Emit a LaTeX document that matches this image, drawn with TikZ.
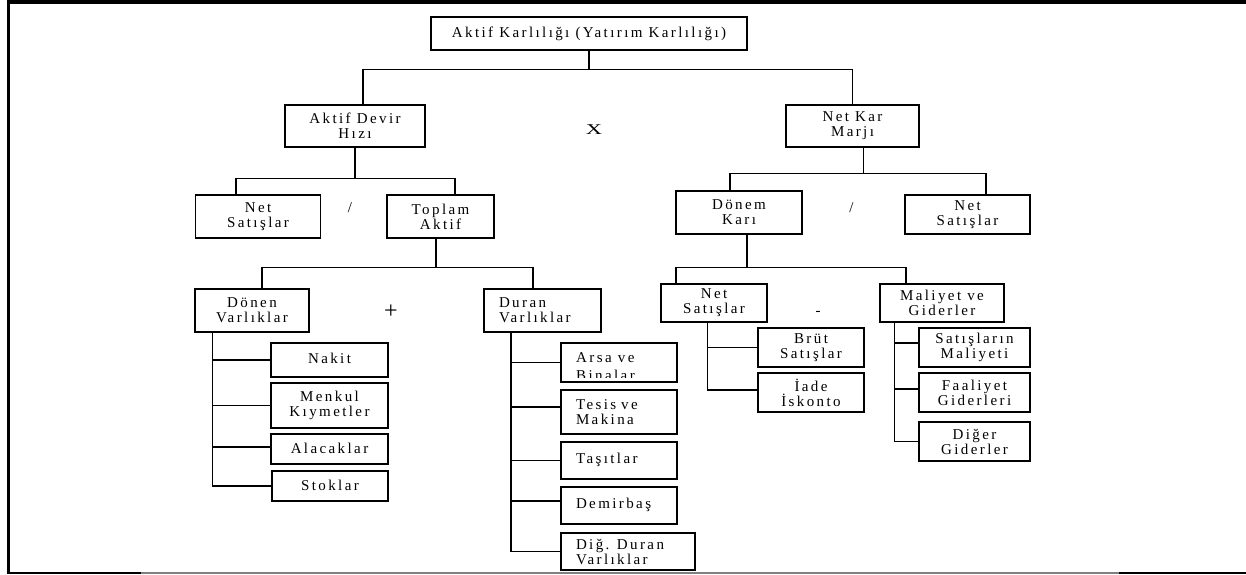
\documentclass[tikz,border=0pt]{standalone}
\usepackage{fontspec}
\setmainfont{Liberation Serif}[LetterSpace=16]

\begin{document}
\begin{tikzpicture}
[every node/.style={inner sep=0pt, align=center, font=\fontsize{15pt}{15pt}\selectfont},
 box/.style={rectangle, draw=black, line width=1.3pt},
 boldbox/.style={rectangle, draw=black, line width=2.8pt},
 leftbox/.style={box, align=left, inner xsep=15pt, text width=#1},
 link/.style={line width=1.3pt, color=black}]
\useasboundingbox (0pt, 0pt) rectangle (1246pt, -574pt);
% page frame
\draw [line width=2.5pt] (8.3pt, -574pt) -- (8.3pt, -2pt);
\draw [line width=4pt] (7pt, -2pt) -- (1246pt, -2pt);
\draw [line width=2.5pt] (7pt, -573pt) -- (141pt, -573pt);
\draw [line width=1.5pt, color=gray] (141pt, -573.2pt) -- (1119pt, -573.2pt);
\draw [line width=2.5pt] (1119pt, -573pt) -- (1246pt, -573pt);
% top levels
\node (root) [boldbox, minimum width=316pt, minimum height=33pt] at (589pt, -33.5pt) {Aktif Karlılığı (Yatırım Karlılığı)};
\node (adh) [boldbox, minimum width=140pt, minimum height=42pt] at (355pt, -126pt) {Aktif Devir\\Hızı};
\node (nkm) [boldbox, minimum width=133pt, minimum height=42pt] at (852.5pt, -126pt) {Net Kar\\Marjı};
\node (times) at (594pt, -130pt) {\scalebox{1.5}[1]{X}};
\node (nsl) [box, minimum width=125pt, minimum height=43pt] at (258pt, -216.5pt) {Net\\Satışlar};
\node (ta) [box, minimum width=107pt, minimum height=43pt] at (440.5pt, -216.5pt) {Toplam\\Aktif};
\node (div1) at (350pt, -208pt) {/};
\node (dk) [box, minimum width=126pt, minimum height=43pt] at (739pt, -212.5pt) {Dönem\\Karı};
\node (nsr) [box, minimum width=125pt, minimum height=39pt] at (967.5pt, -214.5pt) {Net\\Satışlar};
\node (div2) at (851.5pt, -208pt) {/};
% assets
\node (dv) [box, minimum width=114pt, minimum height=43pt] at (252pt, -310.5pt) {Dönen\\Varlıklar};
\node (duv) [leftbox=87pt, minimum height=43pt] at (542.5pt, -310.5pt) {Duran\\Varlıklar};
\node (plus) [font=\fontsize{24pt}{24pt}\selectfont] at (391pt, -312pt) {+};
\node (nakit) [box, minimum width=117pt, minimum height=34pt] at (329.5pt, -360pt) {\raisebox{4pt}{Nakit}};
\node (menkul) [box, minimum width=117pt, minimum height=45pt] at (329.5pt, -405.5pt) {Menkul\\Kıymetler};
\node (alacak) [box, minimum width=117pt, minimum height=30pt] at (329.5pt, -449pt) {\raisebox{2pt}{Alacaklar}};
\node (stok) [box, minimum width=116pt, minimum height=30pt] at (330pt, -486pt) {\raisebox{2pt}{Stoklar}};
\node (arsa) [box, minimum width=116pt, minimum height=39pt] at (619pt, -362.5pt) {};
\begin{scope}
\clip (561pt, -343pt) rectangle (677pt, -377pt);
\node (arsatxt) [anchor=north west, align=left] at (576pt, -352.5pt) {Arsa ve\\[3pt]Binalar};
\end{scope}
\node (tesis) [leftbox=86pt, minimum height=44pt] at (619pt, -412pt) {Tesis ve\\Makina};
\node (tasit) [leftbox=86pt, minimum height=37pt] at (619pt, -460.5pt) {\raisebox{5pt}{Taşıtlar}};
\node (demir) [leftbox=86pt, minimum height=37pt] at (619pt, -505.5pt) {\raisebox{5pt}{Demirbaş}};
\node (digdv) [leftbox=104pt, minimum height=37pt] at (628pt, -551.5pt) {Diğ. Duran\\Varlıklar};
% profit side
\node (nsm) [box, minimum width=106pt, minimum height=38pt] at (714pt, -303pt) {Net\\Satışlar};
\node (mg) [box, minimum width=124pt, minimum height=38pt] at (942pt, -303pt) {Maliyet ve\\Giderler};
\node (minus) at (818pt, -313pt) {-};
\node (brut) [box, minimum width=106pt, minimum height=39pt] at (811pt, -347.5pt) {Brüt\\Satışlar};
\node (iade) [box, minimum width=106pt, minimum height=39pt] at (811pt, -392.5pt) {İade\\İskonto};
\node (sm) [box, minimum width=111pt, minimum height=39pt] at (974.5pt, -347.5pt) {Satışların\\Maliyeti};
\node (fg) [box, minimum width=111pt, minimum height=39pt] at (974.5pt, -392.5pt) {Faaliyet\\Giderleri};
\node (dg) [box, minimum width=111pt, minimum height=39pt] at (974.5pt, -441.5pt) {Diğer\\Giderler};
% connectors
\draw [link] (root.south) -- ++(0pt, -18pt) -| ([xshift=8pt]adh.north);
\draw [link] (root.south) -- ++(0pt, -18pt) -| (nkm.north);
\draw [link] (adh.south) -- ++(0pt, -30pt) -| ([xshift=-22pt]nsl.north);
\draw [link] (adh.south) -- ++(0pt, -30pt) -| ([xshift=14.5pt]ta.north);
\draw [link] ([xshift=-4.5pt]ta.south) -- ++(0pt, -29pt) -| ([xshift=10pt]dv.north);
\draw [link] ([xshift=-4.5pt]ta.south) -- ++(0pt, -29pt) -| ([xshift=-9.5pt]duv.north);
\draw [link] ([xshift=11pt]nkm.south) -- ++(0pt, -25pt) -| ([xshift=-9pt]dk.north);
\draw [link] ([xshift=11pt]nkm.south) -- ++(0pt, -25pt) -| ([xshift=18.5pt]nsr.north);
\draw [link] ([xshift=8pt]dk.south) -- ++(0pt, -33pt) -| ([xshift=-38pt]nsm.north);
\draw [link] ([xshift=8pt]dk.south) -- ++(0pt, -33pt) -| ([xshift=-36pt]mg.north);
% spines
\coordinate (dvspine) at ([xshift=18pt]dv.south west);
\draw [link] (dvspine) |- (nakit.west);
\draw [link] (dvspine) |- (menkul.west);
\draw [link] (dvspine) |- ([yshift=2pt]alacak.west);
\draw [link] (dvspine) |- (stok.west);
\coordinate (duvspine) at ([xshift=27.5pt]duv.south west);
\draw [link] (duvspine) |- (arsa.west);
\draw [link] (duvspine) |- ([yshift=5pt]tesis.west);
\draw [link] (duvspine) |- (tasit.west);
\draw [link] (duvspine) |- ([yshift=4.5pt]demir.west);
\draw [link] (duvspine) |- (digdv.west);
\coordinate (nsmspine) at ([xshift=47pt]nsm.south west);
\draw [link] (nsmspine) |- (brut.west);
\draw [link] (nsmspine) |- ([yshift=2.5pt]iade.west);
\coordinate (mgspine) at ([xshift=15pt]mg.south west);
\draw [link] (mgspine) |- ([yshift=4.5pt]sm.west);
\draw [link] (mgspine) |- ([yshift=3.5pt]fg.west);
\draw [link] (mgspine) |- (dg.west);
\end{tikzpicture}
\end{document}
